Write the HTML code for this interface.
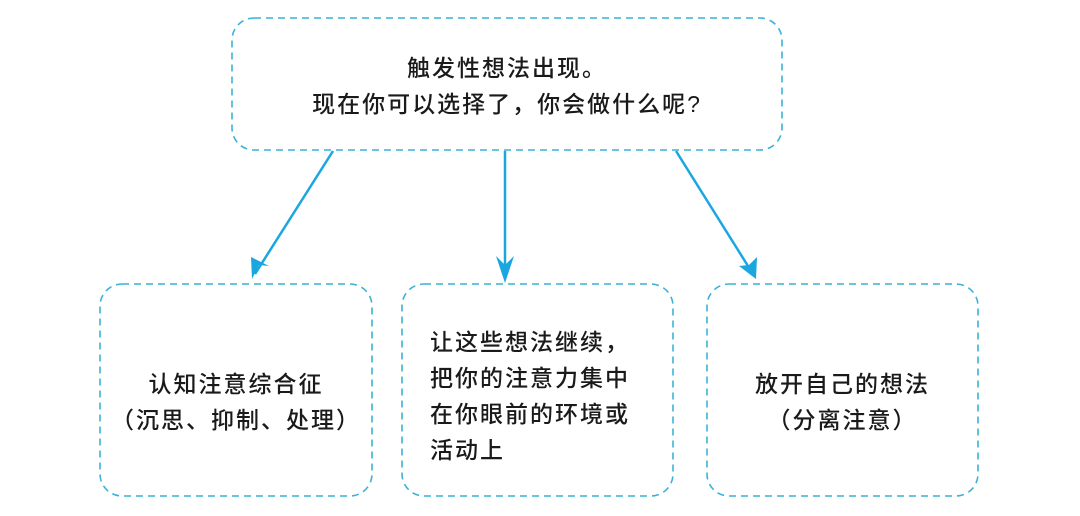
<!DOCTYPE html>
<html><head><meta charset="utf-8"><style>
html,body{margin:0;padding:0;background:#fff;}
body{width:1080px;height:516px;position:relative;overflow:hidden;font-family:"Liberation Sans","Noto Sans CJK SC",sans-serif;color:#1a1a1a;}
.t{position:absolute;font-size:23px;line-height:36px;white-space:nowrap;letter-spacing:2px;font-weight:500;}
</style></head><body>
<svg width="1080" height="516" style="position:absolute;left:0;top:0">
<g fill="none" stroke="#3cb2d6" stroke-width="1.6" stroke-dasharray="7,5">
<rect x="232" y="18" width="550" height="132" rx="22"/>
<rect x="100" y="284" width="272" height="212" rx="22"/>
<rect x="402" y="284" width="271" height="212" rx="22"/>
<rect x="707" y="284" width="271" height="212" rx="22"/>
</g>
<g stroke="#1aa7e0" stroke-width="2.5">
<line x1="333" y1="151" x2="255" y2="274"/>
<line x1="505" y1="151" x2="505" y2="278"/>
<line x1="676" y1="151" x2="753" y2="274"/>
</g>
<g fill="#1aa7e0">
<polygon points="252,279 251,257 269,266 259,265"/>
<polygon points="505,283 496,256 505,265 514,256"/>
<polygon points="756,279 739,266 749,265 757,257"/>
</g>
</svg>
<div class="t" style="left:232px;width:550px;top:50px;text-align:center">触发性想法出现。</div>
<div class="t" style="left:232px;width:550px;top:86px;text-align:center">现在你可以选择了，你会做什么呢?</div>
<div class="t" style="left:100px;width:272px;top:366px;text-align:center">认知注意综合征<br>（沉思、抑制、处理）</div>
<div class="t" style="left:430px;top:324px;">让这些想法继续，<br>把你的注意力集中<br>在你眼前的环境或<br>活动上</div>
<div class="t" style="left:707px;width:271px;top:366px;text-align:center">放开自己的想法<br>（分离注意）</div>
</body></html>
